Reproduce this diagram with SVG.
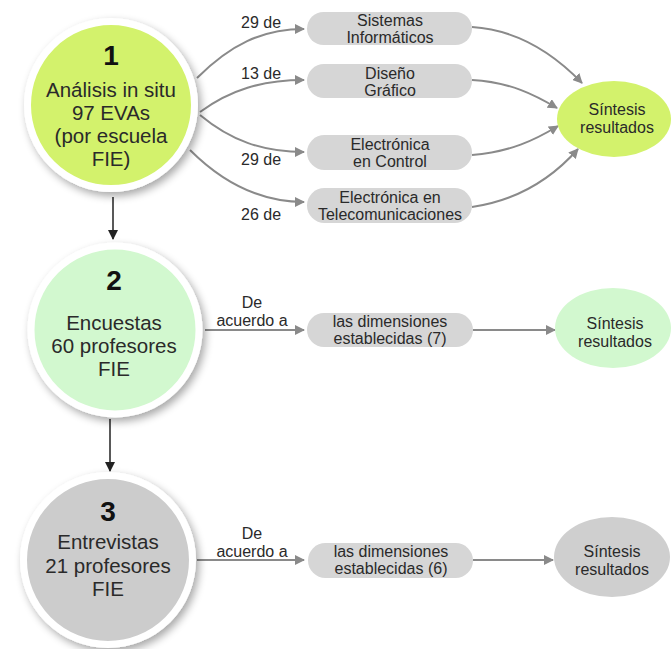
<svg xmlns="http://www.w3.org/2000/svg" width="671" height="649" viewBox="0 0 671 649">
  <defs>
    <filter id="shadow" x="-20%" y="-20%" width="150%" height="150%">
      <feGaussianBlur in="SourceAlpha" stdDeviation="4"/>
      <feOffset dx="3" dy="4" result="b"/>
      <feComponentTransfer><feFuncA type="linear" slope="0.35"/></feComponentTransfer>
      <feMerge><feMergeNode/><feMergeNode in="SourceGraphic"/></feMerge>
    </filter>
    <marker id="ah" viewBox="0 0 10 10" refX="9" refY="5" markerWidth="10" markerHeight="10" markerUnits="userSpaceOnUse" orient="auto">
      <path d="M0,0 L10,5 L0,10 Z" fill="#8a8a8a"/>
    </marker>
    <marker id="ahd" viewBox="0 0 10 10" refX="9" refY="5" markerWidth="10" markerHeight="10" markerUnits="userSpaceOnUse" orient="auto">
      <path d="M0,0 L10,5 L0,10 Z" fill="#222"/>
    </marker>
  </defs>
  <style>
    text { font-family: "Liberation Sans", Arial, sans-serif; fill: #2a2a2a; text-anchor: middle; }
    .big { font-size: 20.5px; }
    .num { font-size: 28px; font-weight: bold; fill: #111; }
    .sm { font-size: 16px; }
    .lbl { font-size: 16px; text-anchor: start; }
    .ring { stroke: #fff; stroke-width: 7; filter: url(#shadow); }
    .pill { fill: #d6d6d6; }
    .edge { fill: none; stroke: #8a8a8a; stroke-width: 2; marker-end: url(#ah); }
    .vedge { fill: none; stroke: #222; stroke-width: 1.5; marker-end: url(#ahd); }
  </style>
  <rect width="671" height="649" fill="#fff"/>

  <!-- connectors -->
  <g id="connectors">
    <path class="vedge" d="M113,197 L113,239"/>
    <path class="vedge" d="M110,419 L110,471"/>
    <path class="edge" d="M197,78 C230,45 262,29 304,29"/>
    <path class="edge" d="M200,112 C230,90 262,80 304,80"/>
    <path class="edge" d="M200,115 C230,140 262,152 304,152"/>
    <path class="edge" d="M190,150 C225,185 262,202 304,202"/>
    <path class="edge" d="M472,27 C520,30 555,55 582,83"/>
    <path class="edge" d="M472,80 C510,82 535,95 557,108"/>
    <path class="edge" d="M472,155 C510,152 535,140 558,126"/>
    <path class="edge" d="M472,207 C520,200 555,175 578,149"/>
    <path class="edge" d="M205,330 L304,330"/>
    <path class="edge" d="M473,330 L555,330"/>
    <path class="edge" d="M197,560 L304,560"/>
    <path class="edge" d="M473,560 L553,560"/>
    <text class="lbl" x="241" y="28">29 de</text>
    <text class="lbl" x="241" y="79">13 de</text>
    <text class="lbl" x="241" y="165">29 de</text>
    <text class="lbl" x="241" y="220">26 de</text>
    <text class="sm" x="252" y="308">De</text>
    <text class="sm" x="252" y="326">acuerdo a</text>
    <text class="sm" x="252" y="539">De</text>
    <text class="sm" x="252" y="557">acuerdo a</text>
  </g>

  <!-- step 1 -->
  <g id="step1">
    <circle class="ring" cx="111" cy="105" r="83.5" fill="#d3f26c"/>
    <text class="num" x="111" y="65">1</text>
    <text class="big" x="111" y="97">Análisis in situ</text>
    <text class="big" x="111" y="120">97 EVAs</text>
    <text class="big" x="111" y="143">(por escuela</text>
    <text class="big" x="111" y="166">FIE)</text>
  </g>
  <g id="sistemas">
    <rect class="pill" x="307" y="12" width="165" height="33" rx="16.5"/>
    <text class="sm" x="390" y="26">Sistemas</text>
    <text class="sm" x="390" y="43">Informáticos</text>
  </g>
  <g id="diseno">
    <rect class="pill" x="307" y="64" width="165" height="34" rx="17"/>
    <text class="sm" x="390" y="79">Diseño</text>
    <text class="sm" x="390" y="96">Gráfico</text>
  </g>
  <g id="control">
    <rect class="pill" x="307" y="135" width="165" height="35" rx="17.5"/>
    <text class="sm" x="390" y="150">Electrónica</text>
    <text class="sm" x="390" y="167">en Control</text>
  </g>
  <g id="telecom">
    <rect class="pill" x="307" y="188" width="165" height="35" rx="17.5"/>
    <text class="sm" x="390" y="203">Electrónica en</text>
    <text class="sm" x="390" y="220">Telecomunicaciones</text>
  </g>
  <g id="sintesis1">
    <ellipse cx="614" cy="119" rx="57" ry="38" fill="#d3f26c"/>
    <text class="sm" x="617" y="115">Síntesis</text>
    <text class="sm" x="617" y="133">resultados</text>
  </g>

  <!-- step 2 -->
  <g id="step2">
    <circle class="ring" cx="115" cy="330" r="84" fill="#d2f8cf"/>
    <text class="num" x="114" y="290">2</text>
    <text class="big" x="114" y="330">Encuestas</text>
    <text class="big" x="114" y="353">60 profesores</text>
    <text class="big" x="114" y="376">FIE</text>
  </g>
  <g id="dimensiones7">
    <rect class="pill" x="307" y="313" width="166" height="34" rx="17"/>
    <text class="sm" x="390" y="327">las dimensiones</text>
    <text class="sm" x="390" y="344">establecidas (7)</text>
  </g>
  <g id="sintesis2">
    <ellipse cx="613" cy="328" rx="58" ry="40" fill="#d2f8cf"/>
    <text class="sm" x="615" y="329">Síntesis</text>
    <text class="sm" x="615" y="347">resultados</text>
  </g>

  <!-- step 3 -->
  <g id="step3">
    <circle class="ring" cx="108" cy="560" r="84.5" fill="#cccccc"/>
    <text class="num" x="108" y="521">3</text>
    <text class="big" x="108" y="549">Entrevistas</text>
    <text class="big" x="108" y="573">21 profesores</text>
    <text class="big" x="108" y="596">FIE</text>
  </g>
  <g id="dimensiones6">
    <rect class="pill" x="308" y="543" width="165" height="35" rx="17.5"/>
    <text class="sm" x="391" y="557">las dimensiones</text>
    <text class="sm" x="391" y="574">establecidas (6)</text>
  </g>
  <g id="sintesis3">
    <ellipse cx="612" cy="557" rx="58" ry="40" fill="#cfcfcf"/>
    <text class="sm" x="612" y="557">Síntesis</text>
    <text class="sm" x="612" y="575">resultados</text>
  </g>
</svg>
